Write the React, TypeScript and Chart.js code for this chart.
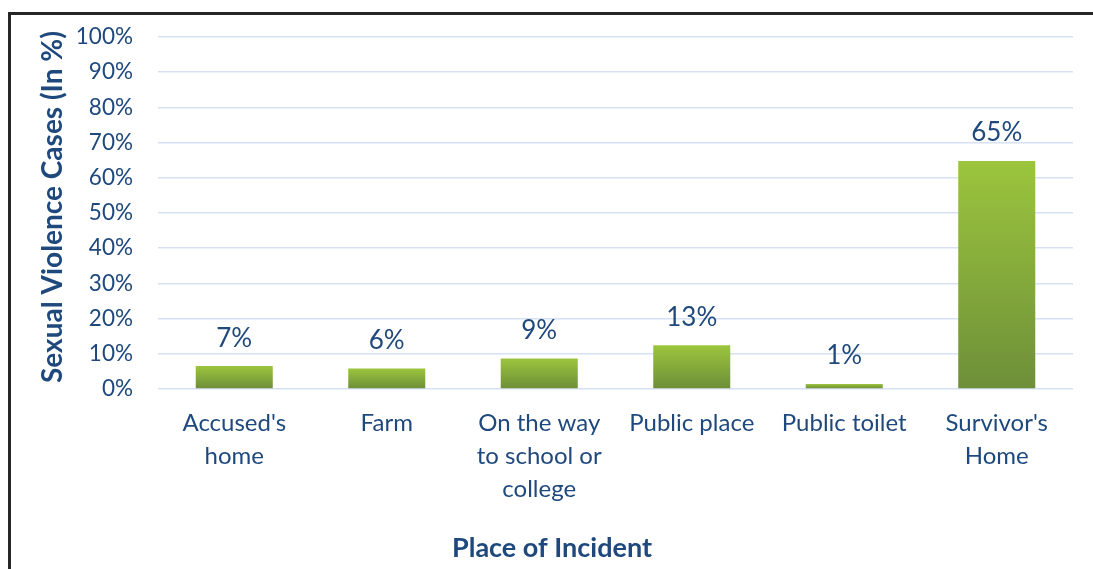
import React, { useEffect, useRef } from "react";
import { Chart, registerables } from "chart.js";

Chart.register(...registerables);

const categories: string[][] = [
  ["Accused's", "home"],
  ["Farm"],
  ["On the way", "to school or", "college"],
  ["Public place"],
  ["Public toilet"],
  ["Survivor's", "Home"],
];
const values: number[] = [6.5, 5.8, 8.7, 12.4, 1.4, 64.8];
const valueLabels: string[] = ["7%", "6%", "9%", "13%", "1%", "65%"];
const yTitle = "Sexual Violence Cases (In %)";
const xTitle = "Place of Incident";

const TEXT = "#1F497D";
const FONT = "Lato, 'Open Sans', sans-serif";

const labelPlugin = {
  id: "barLabels",
  beforeDatasetsDraw(chart: any) {
    const ctx = chart.ctx;
    const meta = chart.getDatasetMeta(0);
    meta.data.forEach((bar: any) => {
      const top = Math.min(bar.y, bar.base);
      const bottom = Math.max(bar.y, bar.base);
      if (!isFinite(top) || !isFinite(bottom) || bottom - top < 0.5) return;
      const g = ctx.createLinearGradient(0, top, 0, bottom);
      g.addColorStop(0, "#9CC53D");
      g.addColorStop(1, "#6E8F39");
      bar.options = Object.assign({}, bar.options, { backgroundColor: g });
    });
  },
  afterDatasetsDraw(chart: any) {
    const ctx = chart.ctx;
    const meta = chart.getDatasetMeta(0);
    ctx.save();
    ctx.font = `26px ${FONT}`;
    ctx.fillStyle = TEXT;
    ctx.textAlign = "center";
    ctx.textBaseline = "middle";
    meta.data.forEach((bar: any, i: number) => {
      ctx.fillText(valueLabels[i], bar.x, bar.y - 28);
    });
    ctx.restore();
  },
  afterDraw(chart: any) {
    const ctx = chart.ctx;
    const w = chart.width;
    const h = chart.height;
    ctx.save();
    ctx.fillStyle = TEXT;
    ctx.textAlign = "center";
    ctx.textBaseline = "middle";
    ctx.font = `bold 27px ${FONT}`;
    ctx.fillText(xTitle, w / 2, h - 21);
    const area = chart.chartArea;
    ctx.translate(42, (area.top + area.bottom) / 2 - 6);
    ctx.rotate(-Math.PI / 2);
    ctx.font = `bold 28px ${FONT}`;
    ctx.fillText(yTitle, 0, 0);
    ctx.restore();
  },
};

export default function App() {
  const ref = useRef<HTMLCanvasElement | null>(null);
  useEffect(() => {
    if (!ref.current) return;
    const chart = new Chart(ref.current, {
      type: "bar",
      data: {
        labels: categories,
        datasets: [
          {
            data: values,
            categoryPercentage: 1,
            barPercentage: 0.505,
            backgroundColor: (c: any) => "#8DB33E",
            borderWidth: 0,
          },
        ],
      },
      options: {
        animation: false,
        responsive: false,
        maintainAspectRatio: false,
        layout: { padding: { top: 22, right: 20, left: 0, bottom: 0 } },
        plugins: { legend: { display: false }, tooltip: { enabled: false } },
        scales: {
          x: {
            grid: { display: false, drawTicks: false },
            border: { display: false },
            ticks: {
              color: TEXT,
              font: { family: FONT, size: 24, lineHeight: 1.375 },
              padding: 18,
              maxRotation: 0,
              autoSkip: false,
            },
            afterFit: (s: any) => {
              s.height = 180;
            },
          },
          y: {
            min: 0,
            max: 100,
            ticks: {
              stepSize: 10,
              color: TEXT,
              font: { family: FONT, size: 22.5 },
              padding: 25,
              callback: (v: any) => `${v}%`,
            },
            grid: { color: "#D6E2F3", lineWidth: 1.5, drawTicks: false },
            border: { display: false },
            afterFit: (s: any) => {
              s.width = 147;
              s.paddingTop = 0;
              s.paddingBottom = 0;
            },
          },
        },
      },
      plugins: [labelPlugin],
    });
    return () => chart.destroy();
  }, []);
  return (
    <div
      style={{
        position: "absolute",
        left: 8,
        top: 12,
        width: 1085,
        height: 557,
        borderLeft: "3px solid #262626",
        borderTop: "3px solid #262626",
        boxSizing: "border-box",
        overflow: "hidden",
      }}
    >
      <canvas ref={ref} width={1082} height={554} style={{ display: "block" }} />
    </div>
  );
}
